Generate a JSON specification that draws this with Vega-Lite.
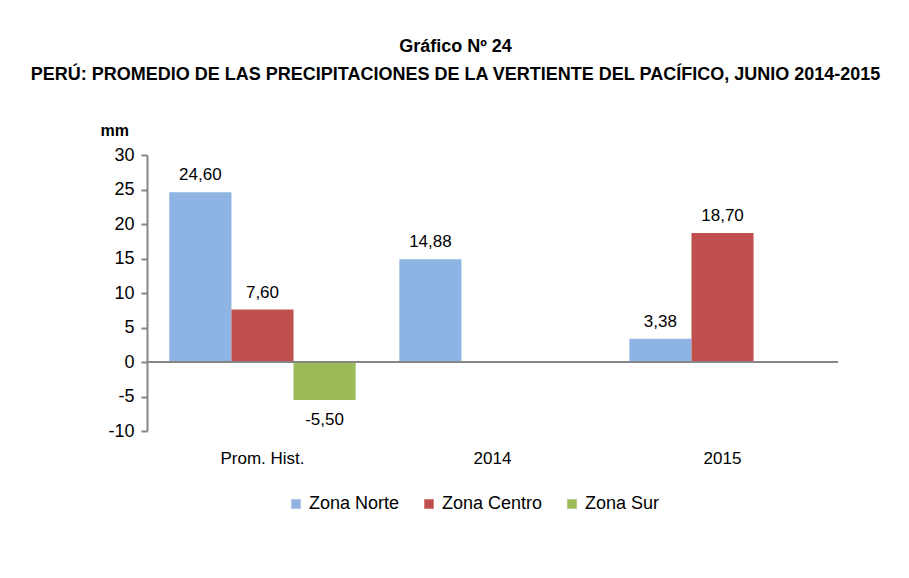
{
  "$schema": "https://vega.github.io/schema/vega-lite/v6.json",
  "width": 691,
  "height": 276,
  "autosize": {"type": "none"},
  "padding": {"left": 147, "top": 155, "right": 71, "bottom": 147},
  "background": "white",
  "config": {
    "locale": {"number": {"decimal": ",", "thousands": ".", "grouping": [3], "currency": ["", "€"], "minus": "-"}},
    "font": "Liberation Sans",
    "view": {"stroke": null}
  },
  "title": {
    "text": ["Gráfico Nº 24", "PERÚ: PROMEDIO DE LAS PRECIPITACIONES DE LA VERTIENTE DEL PACÍFICO, JUNIO 2014-2015"],
    "anchor": "middle",
    "frame": "group",
    "fontSize": 18,
    "fontWeight": "bold",
    "lineHeight": 28,
    "dx": -37,
    "offset": 38,
    "color": "black"
  },
  "data": {
    "values": [
      {"cat": "Prom. Hist.", "zona": "Zona Norte", "v": 24.6},
      {"cat": "Prom. Hist.", "zona": "Zona Centro", "v": 7.6},
      {"cat": "Prom. Hist.", "zona": "Zona Sur", "v": -5.5},
      {"cat": "2014", "zona": "Zona Norte", "v": 14.88},
      {"cat": "2015", "zona": "Zona Norte", "v": 3.38},
      {"cat": "2015", "zona": "Zona Centro", "v": 18.7}
    ]
  },
  "encoding": {
    "x": {
      "field": "cat", "type": "nominal", "sort": ["Prom. Hist.", "2014", "2015"],
      "scale": {"paddingInner": 0.19, "paddingOuter": 0.097},
      "axis": {"title": null, "domain": false, "ticks": false, "labelPadding": 19, "labelFontSize": 17, "labelAngle": 0, "labelColor": "black"}
    },
    "xOffset": {"field": "zona", "type": "nominal", "sort": ["Zona Norte", "Zona Centro", "Zona Sur"]},
    "y": {
      "field": "v", "type": "quantitative",
      "scale": {"domain": [-10, 30], "nice": false, "zero": false},
      "axis": {
        "values": [-10, -5, 0, 5, 10, 15, 20, 25, 30],
        "tickCount": 9,
        "labelOverlap": false, "labelFlush": false,
        "grid": false,
        "domainColor": "#868686", "domainWidth": 2,
        "tickColor": "#868686", "tickWidth": 2, "tickSize": 6,
        "labelFontSize": 18, "labelColor": "black", "labelPadding": 7,
        "title": "mm", "titleAngle": 0, "titleX": -47, "titleY": -25,
        "titleAlign": "left", "titleBaseline": "middle",
        "titleFontSize": 16, "titleFontWeight": "bold", "titleColor": "black"
      }
    }
  },
  "layer": [
    {
      "mark": {"type": "bar"},
      "encoding": {
        "color": {
          "field": "zona", "type": "nominal",
          "sort": ["Zona Norte", "Zona Centro", "Zona Sur"],
          "scale": {"domain": ["Zona Norte", "Zona Centro", "Zona Sur"], "range": ["#8EB4E3", "#C0504D", "#9BBB59"]},
          "legend": {
            "orient": "none", "legendX": 140, "legendY": 340,
            "direction": "horizontal", "title": null,
            "symbolType": "square", "symbolSize": 90, "symbolStrokeWidth": 0,
            "labelFontSize": 18, "labelColor": "black", "columnPadding": 20, "labelOffset": 4
          }
        }
      }
    },
    {
      "transform": [{"filter": "datum.v >= 0"}],
      "mark": {"type": "text", "baseline": "bottom", "dy": -8, "fontSize": 17, "color": "black"},
      "encoding": {
        "text": {"field": "v", "type": "quantitative", "format": ".2f"}
      }
    },
    {
      "transform": [{"filter": "datum.v < 0"}],
      "mark": {"type": "text", "baseline": "top", "dy": 12, "fontSize": 17, "color": "black"},
      "encoding": {
        "text": {"field": "v", "type": "quantitative", "format": ".2f"}
      }
    },
    {
      "mark": {"type": "rule", "color": "#868686", "strokeWidth": 2},
      "encoding": {"y": {"datum": 0, "type": "quantitative"}, "x": null, "xOffset": null}
    }
  ]
}
